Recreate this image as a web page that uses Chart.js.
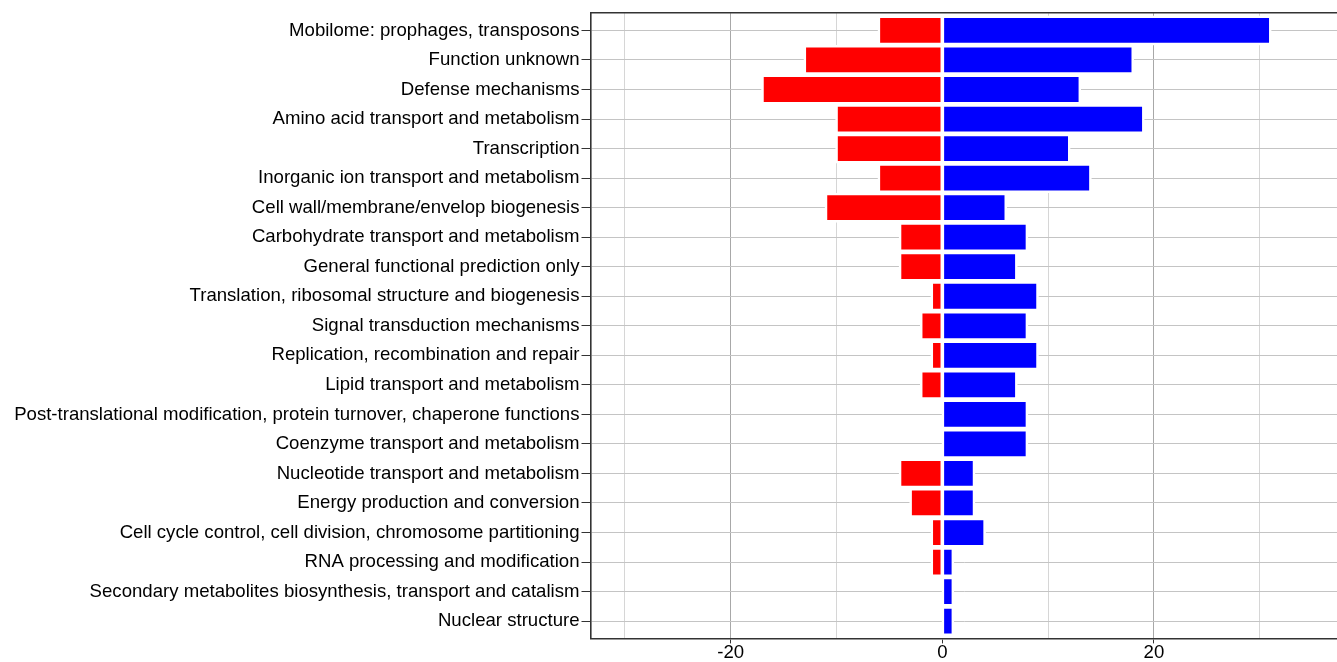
<!DOCTYPE html>
<html>
<head>
<meta charset="utf-8">
<script src="https://cdn.jsdelivr.net/npm/chart.js@4/dist/chart.umd.min.js"></script>
<style>
  html, body { margin: 0; padding: 0; background: #ffffff; }
  #wrap { width: 1337px; height: 662px; position: relative; }
</style>
</head>
<body>
<div id="wrap"><canvas id="c"></canvas></div>
<script>
const categories = [
  "Mobilome: prophages, transposons",
  "Function unknown",
  "Defense mechanisms",
  "Amino acid transport and metabolism",
  "Transcription",
  "Inorganic ion transport and metabolism",
  "Cell wall/membrane/envelop biogenesis",
  "Carbohydrate transport and metabolism",
  "General functional prediction only",
  "Translation, ribosomal structure and biogenesis",
  "Signal transduction mechanisms",
  "Replication, recombination and repair",
  "Lipid transport and metabolism",
  "Post-translational modification, protein turnover, chaperone functions",
  "Coenzyme transport and metabolism",
  "Nucleotide transport and metabolism",
  "Energy production and conversion",
  "Cell cycle control, cell division, chromosome partitioning",
  "RNA processing and modification",
  "Secondary metabolites biosynthesis, transport and catalism",
  "Nuclear structure"
];
const downValues = [-6, -13, -17, -10, -10, -6, -11, -4, -4, -1, -2, -1, -2, 0, 0, -4, -3, -1, -1, 0, 0];
const upValues   = [31, 18, 13, 19, 12, 14, 6, 8, 7, 9, 8, 9, 7, 8, 8, 3, 3, 4, 1, 1, 1];
const xTickLabels = [-20, 0, 20];

const FONT = "'Liberation Sans', Arial, Helvetica, sans-serif";

const toPoints = arr => arr.map((v, i) => ({ x: v, y: i }));

const isMajor = ctx => ctx.tick && xTickLabels.includes(ctx.tick.value);

new Chart(document.getElementById('c'), {
  type: 'bar',
  data: {
    datasets: [
      { label: 'down', data: toPoints(downValues), backgroundColor: '#ff0000', borderColor: '#ffffff', borderWidth: 2.6, borderSkipped: false, inflateAmount: 1.3 },
      { label: 'up', data: toPoints(upValues), backgroundColor: '#0000ff', borderColor: '#ffffff', borderWidth: 2.6, borderSkipped: false, inflateAmount: 1.3 }
    ]
  },
  options: {
    indexAxis: 'y',
    responsive: true,
    maintainAspectRatio: false,
    animation: false,
    barPercentage: 0.927,
    categoryPercentage: 1.0,
    layout: { padding: { top: 12, right: 0, bottom: 0, left: 0 } },
    plugins: { legend: { display: false }, tooltip: { enabled: false } },
    scales: {
      x: {
        type: 'linear',
        stacked: true,
        position: 'bottom',
        min: -33.25,
        max: 37.3,
        grid: {
          drawTicks: true,
          tickLength: 5,
          tickColor: ctx => isMajor(ctx) ? '#333333' : 'rgba(0,0,0,0)',
          color: ctx => !ctx.tick ? '#d6d6d6' : (ctx.tick.value === 0 ? 'rgba(0,0,0,0)' : (isMajor(ctx) ? '#a8a8a8' : '#d6d6d6')),
          lineWidth: 1
        },
        border: { display: true, color: '#333333', width: 1.6 },
        ticks: {
          stepSize: 10,
          includeBounds: false,
          autoSkip: false,
          maxRotation: 0,
          padding: 0,
          color: '#000000',
          font: { family: FONT, size: 18.6, lineHeight: 1.0 },
          callback: v => xTickLabels.includes(v) ? String(v) : ''
        }
      },
      x2: {
        type: 'linear',
        position: 'top',
        min: -33.25,
        max: 37.3,
        grid: { display: true, drawTicks: false, color: 'rgba(0,0,0,0)' },
        border: { display: true, color: '#333333', width: 1.6 },
        ticks: { display: false }
      },
      y: {
        type: 'linear',
        stacked: true,
        reverse: true,
        offset: false,
        min: -0.585,
        max: categories.length - 1 + 0.585,
        afterFit: s => { s.width = 590.5; },
        grid: {
          offset: false,
          color: '#c4c4c4',
          lineWidth: 1,
          drawTicks: true,
          tickLength: 9,
          tickColor: '#333333'
        },
        border: { display: true, color: '#333333', width: 1.6 },
        ticks: {
          stepSize: 1,
          includeBounds: false,
          autoSkip: false,
          padding: 2,
          color: '#000000',
          font: { family: FONT, size: 18.6 },
          callback: v => Number.isInteger(v) ? (categories[v] || '') : ''
        }
      }
    }
  }
});
</script>
</body>
</html>
